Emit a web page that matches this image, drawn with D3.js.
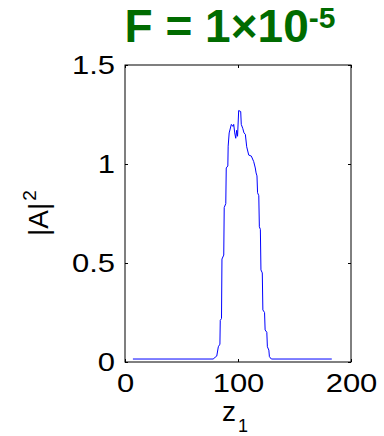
<!DOCTYPE html>
<html><head><meta charset="utf-8">
<script src="https://cdn.jsdelivr.net/npm/d3@7"></script>
<style>html,body{margin:0;padding:0;background:#fff;}svg{display:block;}</style>
</head><body>
<script>
const zVals = [7, 78, 80.5, 81.2, 82.6, 84.0, 84.3, 85.4, 85.8, 87.4, 87.8, 89.2, 89.6, 91.0, 91.3, 92.2, 94.1, 95.5, 96.2, 97.1, 98.0, 98.8, 99.6, 100.6, 102.4, 102.9, 104.2, 105.3, 106.5, 107.7, 109.5, 111.8, 113.9, 115.3, 116.0, 116.8, 117.3, 118.4, 118.9, 119.8, 120.3, 121.5, 122.0, 123.5, 124.0, 125.5, 126.0, 127.3, 127.8, 129.5, 183];
const aVals = [0.015, 0.015, 0.027, 0.03, 0.077, 0.09, 0.21, 0.22, 0.52, 0.54, 0.78, 0.80, 0.98, 0.99, 1.09, 1.157, 1.20, 1.19, 1.20, 1.157, 1.13, 1.17, 1.14, 1.27, 1.265, 1.20, 1.18, 1.157, 1.15, 1.087, 1.045, 1.04, 1.012, 0.98, 0.955, 0.94, 0.855, 0.84, 0.683, 0.67, 0.465, 0.45, 0.263, 0.25, 0.162, 0.15, 0.077, 0.06, 0.027, 0.015, 0.015];
const xTicks = [0, 100, 200];
const yTicks = [0, 0.5, 1, 1.5];
const yTickLabels = ["0", "0.5", "1", "1.5"];

const W = 384, H = 436;
const L = 125, R = 351, T = 65, B = 362;
const svg = d3.select("body").append("svg").attr("width", W).attr("height", H);
const x = d3.scaleLinear().domain([0, 200]).range([L, R]);
const y = d3.scaleLinear().domain([0, 1.5]).range([B, T]);
const font = "'Liberation Sans', Arial, sans-serif";

// line
const data = zVals.map((z, i) => [z, aVals[i]]);
svg.append("path").datum(data)
  .attr("d", d3.line().x(d => x(d[0])).y(d => y(d[1])))
  .attr("fill", "none").attr("stroke", "#0000ff").attr("stroke-width", 1);

// box
svg.append("rect").attr("x", L).attr("y", T).attr("width", R - L).attr("height", B - T)
  .attr("fill", "none").attr("stroke", "#000").attr("stroke-width", 1);

const tl = 3;
const axB = svg.append("g").attr("transform", `translate(0,${B})`)
  .call(d3.axisBottom(x).tickValues(xTicks).tickSize(-tl).tickFormat(d3.format("d")));
const axT = svg.append("g").attr("transform", `translate(0,${T})`)
  .call(d3.axisTop(x).tickValues(xTicks).tickSize(-tl).tickFormat(""));
const axL = svg.append("g").attr("transform", `translate(${L},0)`)
  .call(d3.axisLeft(y).tickValues(yTicks).tickSize(-tl).tickFormat((d, i) => yTickLabels[i]));
const axR = svg.append("g").attr("transform", `translate(${R},0)`)
  .call(d3.axisRight(y).tickValues(yTicks).tickSize(-tl).tickFormat(""));
[axB, axT, axL, axR].forEach(g => {
  g.select(".domain").remove();
  g.selectAll(".tick line").attr("stroke", "#000");
  g.selectAll("text").attr("fill", "#000").style("font-family", font).style("font-size", "25px");
});
axB.selectAll("text").attr("y", 0).attr("dy", 0).attr("transform", "translate(0,30) scale(1.24,1)");
axL.selectAll("text").attr("x", 0).attr("dy", 0).attr("transform", "translate(-10,8) scale(1.24,1)");

// title
const title = svg.append("text").attr("x", 230).attr("y", 42).attr("text-anchor", "middle")
  .attr("fill", "#006b00").style("font-family", font).style("font-weight", "bold").style("font-size", "46px");
title.append("tspan").text("F = 1\u00d710");
title.append("tspan").attr("dy", -14).style("font-size", "30px").text("-5");

// x label
const xl = svg.append("text").attr("x", 222).attr("y", 421).attr("text-anchor", "start")
  .style("font-family", font).style("font-size", "28px").attr("fill", "#000");
xl.append("tspan").text("z");
xl.append("tspan").attr("dx", 2).attr("dy", 11).style("font-size", "18px").text("1");

// y label
const yl = svg.append("text").attr("transform", `translate(48,236) rotate(-90)`).attr("text-anchor", "start")
  .style("font-family", font).style("font-size", "28px").attr("fill", "#000");
yl.append("tspan").text("|A|");
yl.append("tspan").attr("dx", 2).attr("dy", -12).style("font-size", "19px").text("2");
</script>
</body></html>
